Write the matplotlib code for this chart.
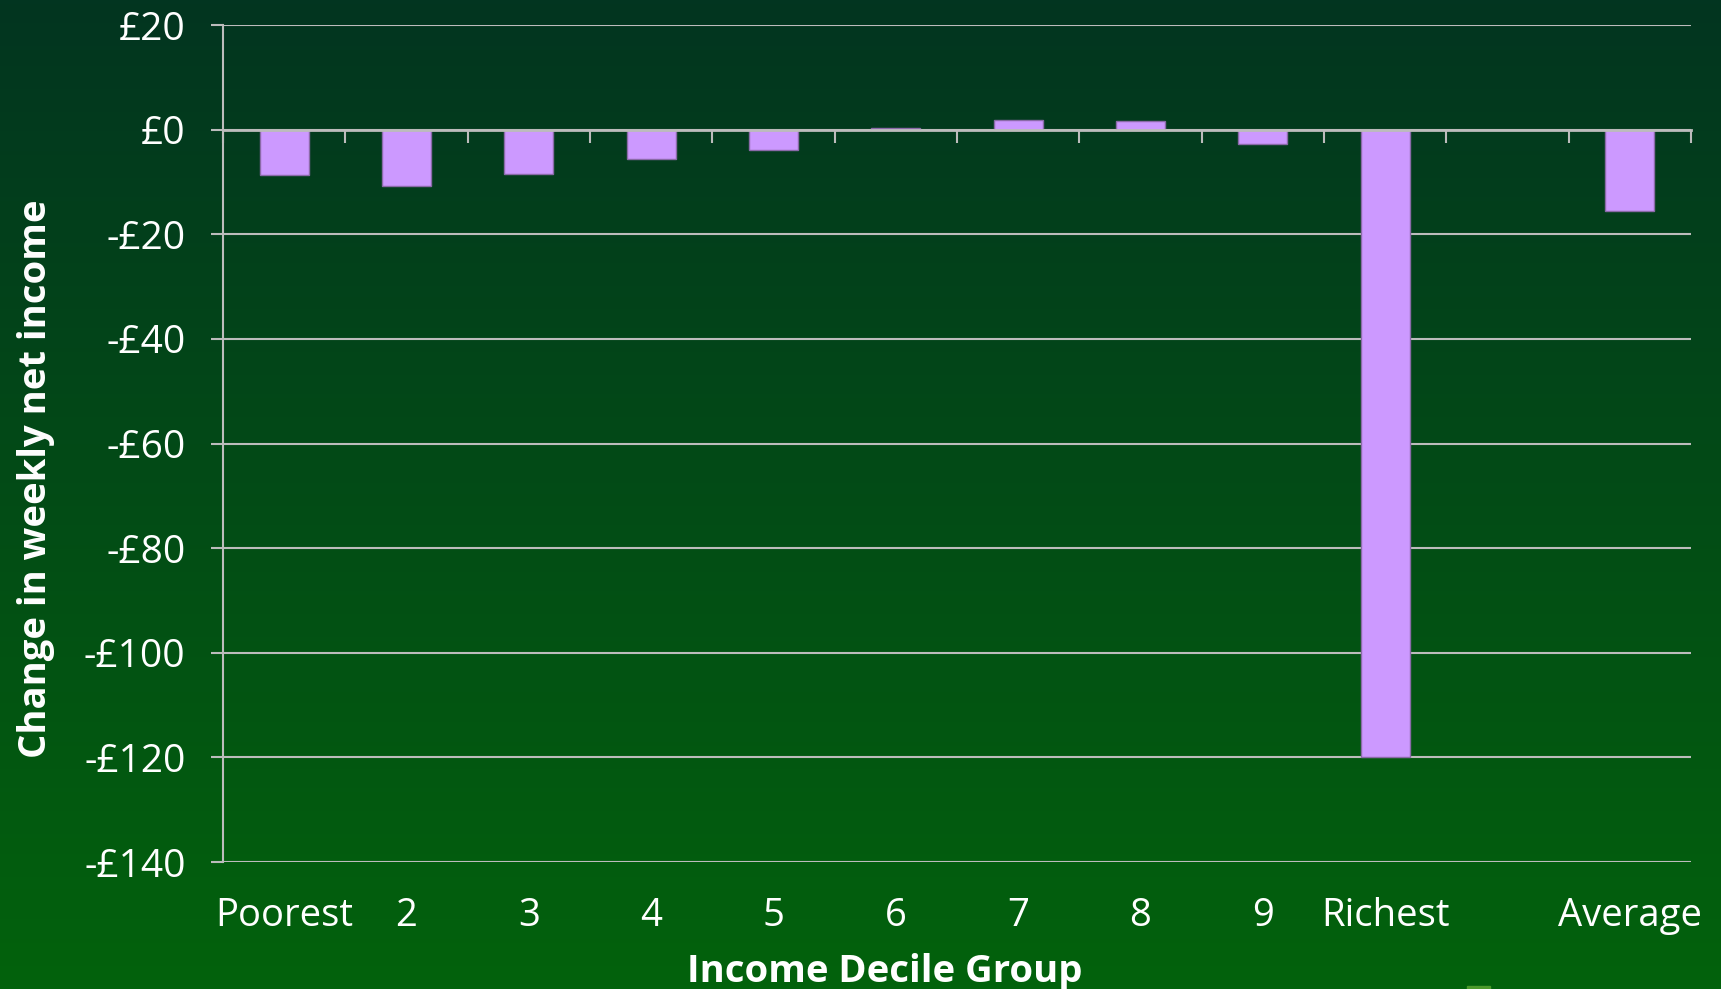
import numpy as np
import matplotlib.pyplot as plt
from matplotlib.colors import LinearSegmentedColormap
from matplotlib.patches import Rectangle

# data
groups = ["Poorest", "2", "3", "4", "5", "6", "7", "8", "9", "Richest", "", "Average"]
change = [-8.7, -10.8, -8.5, -5.7, -3.9, 0.4, 1.85, 1.7, -2.7, -120.0, np.nan, -15.6]
yticks = [20, 0, -20, -40, -60, -80, -100, -120, -140]

plt.rcParams['font.family'] = ['Open Sans', 'DejaVu Sans']

fig = plt.figure(figsize=(17.21, 9.89), dpi=100)

# green gradient background
bg = fig.add_axes([0, 0, 1, 1], zorder=0)
grad = np.linspace(0, 1, 256).reshape(-1, 1)
cmap = LinearSegmentedColormap.from_list("bg", ["#023520", "#02620c"])
bg.imshow(grad, aspect="auto", cmap=cmap, extent=[0, 1, 0, 1], origin="upper")
bg.axis("off")
# cut-off legend swatch at the bottom edge
bg.add_patch(Rectangle((1467 / 1721, 0), 23 / 1721, 3 / 989, color="#4c9a2c",
                       transform=bg.transAxes))

ax = fig.add_axes([0.1296, 0.1284, 0.853, 0.8463], zorder=1)
ax.patch.set_alpha(0)

x = np.arange(len(groups))
ax.bar(x, change, width=0.4, color="#cc99ff", edgecolor="#8a6aa8", linewidth=1, zorder=3)

grey = "#bcbcbc"
ax.set_xlim(-0.5, len(groups) - 0.5)
ax.set_ylim(-140, 20)
ax.set_yticks(yticks)
ax.set_yticklabels([("-£%d" % -v) if v < 0 else "£%d" % v for v in yticks])
ax.yaxis.grid(True, color=grey, linewidth=1.5, zorder=1)
ax.tick_params(axis="y", colors=grey, length=9, width=1.5, pad=18,
               labelsize=28, labelcolor="white")

for s in ["top", "right"]:
    ax.spines[s].set_visible(False)
ax.spines["left"].set_color(grey)
ax.spines["left"].set_linewidth(1.5)
ax.spines["bottom"].set_position(("data", 0))
ax.spines["bottom"].set_color(grey)
ax.spines["bottom"].set_linewidth(2)
ax.spines["bottom"].set_zorder(4)

# category boundary ticks hanging from the zero line
ax.set_xticks(np.arange(-0.5, len(groups), 1.0))
ax.set_xticklabels([])
ax.tick_params(axis="x", colors=grey, length=9, width=1.5, direction="out")

# category labels below the plot
sec = ax.secondary_xaxis(0)
sec.set_xticks(x)
sec.set_xticklabels(groups)
sec.tick_params(length=0, pad=25, labelsize=27.5, labelcolor="white")
sec.spines["bottom"].set_visible(False)

fig.text(0.514, 0.017, "Income Decile Group", color="white", fontsize=27.5,
         fontweight="bold", ha="center", va="center")
fig.text(0.021, 0.516, "Change in weekly net income", color="white", fontsize=27.5,
         fontweight="bold", rotation=90, ha="center", va="center")

fig.savefig("out.png", dpi=100)
